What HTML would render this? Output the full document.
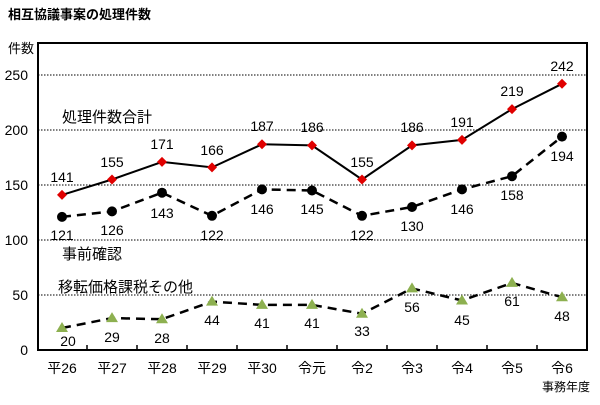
<!DOCTYPE html>
<html><head><meta charset="utf-8"><style>
body{margin:0;background:#fff}
text{font-family:"Liberation Sans","Noto Sans CJK JP",sans-serif;fill:#000}
</style></head><body>
<svg width="600" height="400" viewBox="0 0 600 400" xmlns="http://www.w3.org/2000/svg">
<text x="8" y="19" font-size="13" font-weight="bold">相互協議事案の処理件数</text>
<text x="8" y="53" font-size="13">件数</text>
<g stroke="#000" stroke-width="1" stroke-dasharray="1.5,1.5">
<line x1="38" y1="75" x2="587" y2="75"/><line x1="38" y1="130" x2="587" y2="130"/>
<line x1="38" y1="185" x2="587" y2="185"/><line x1="38" y1="240" x2="587" y2="240"/>
<line x1="38" y1="295" x2="587" y2="295"/>
</g>
<rect x="38" y="43" width="549" height="307" fill="none" stroke="#000" stroke-width="2"/>
<g font-size="14" text-anchor="end">
<text x="28" y="80">250</text><text x="28" y="135">200</text><text x="28" y="190">150</text>
<text x="28" y="245">100</text><text x="28" y="300">50</text><text x="28" y="355">0</text>
</g>
<g stroke="#000" stroke-width="1.5">
<line x1="87" y1="350" x2="87" y2="345"/><line x1="137" y1="350" x2="137" y2="345"/><line x1="187" y1="350" x2="187" y2="345"/><line x1="237" y1="350" x2="237" y2="345"/><line x1="287" y1="350" x2="287" y2="345"/><line x1="337" y1="350" x2="337" y2="345"/><line x1="387" y1="350" x2="387" y2="345"/><line x1="437" y1="350" x2="437" y2="345"/><line x1="487" y1="350" x2="487" y2="345"/><line x1="537" y1="350" x2="537" y2="345"/>
</g>
<g font-size="14" text-anchor="middle">
<text x="62" y="373">平26</text><text x="112" y="373">平27</text><text x="162" y="373">平28</text><text x="212" y="373">平29</text><text x="262" y="373">平30</text><text x="312" y="373">令元</text><text x="362" y="373">令2</text><text x="412" y="373">令3</text><text x="462" y="373">令4</text><text x="512" y="373">令5</text><text x="562" y="373">令6</text>
</g>
<text x="590" y="391" font-size="12" text-anchor="end">事務年度</text>
<g font-size="15"><text x="62" y="122">処理件数合計</text><text x="62" y="259">事前確認</text><text x="58" y="292">移転価格課税その他</text></g>
<polyline fill="none" stroke="#000" stroke-width="2" points="62,194.9 112,179.5 162,161.9 212,167.4 262,144.3 312,145.4 362,179.5 412,145.4 462,139.9 512,109.1 562,83.8"/>
<g fill="#e00000">
<path d="M62,189.9l5,5l-5,5l-5,-5z"/><path d="M112,174.5l5,5l-5,5l-5,-5z"/><path d="M162,156.9l5,5l-5,5l-5,-5z"/><path d="M212,162.4l5,5l-5,5l-5,-5z"/><path d="M262,139.3l5,5l-5,5l-5,-5z"/><path d="M312,140.4l5,5l-5,5l-5,-5z"/><path d="M362,174.5l5,5l-5,5l-5,-5z"/><path d="M412,140.4l5,5l-5,5l-5,-5z"/><path d="M462,134.9l5,5l-5,5l-5,-5z"/><path d="M512,104.1l5,5l-5,5l-5,-5z"/><path d="M562,78.8l5,5l-5,5l-5,-5z"/>
</g>
<g font-size="14" text-anchor="middle">
<text x="62" y="182">141</text><text x="112" y="167">155</text><text x="162" y="149">171</text><text x="212" y="155">166</text><text x="262" y="131">187</text><text x="312" y="132">186</text><text x="362" y="167">155</text><text x="412" y="132">186</text><text x="462" y="127">191</text><text x="512" y="96">219</text><text x="562" y="71">242</text>
</g>
<polyline fill="none" stroke="#000" stroke-width="2.5" stroke-dasharray="9,6" points="62,216.9 112,211.4 162,192.7 212,215.8 262,189.4 312,190.5 362,215.8 412,207 462,189.4 512,176.2 562,136.6"/>
<g fill="#000">
<circle cx="62" cy="216.9" r="5"/><circle cx="112" cy="211.4" r="5"/><circle cx="162" cy="192.7" r="5"/><circle cx="212" cy="215.8" r="5"/><circle cx="262" cy="189.4" r="5"/><circle cx="312" cy="190.5" r="5"/><circle cx="362" cy="215.8" r="5"/><circle cx="412" cy="207" r="5"/><circle cx="462" cy="189.4" r="5"/><circle cx="512" cy="176.2" r="5"/><circle cx="562" cy="136.6" r="5"/>
</g>
<g font-size="14" text-anchor="middle">
<text x="62" y="240">121</text><text x="112" y="235">126</text><text x="162" y="218">143</text><text x="212" y="240">122</text><text x="262" y="214">146</text><text x="312" y="214">145</text><text x="362" y="240">122</text><text x="412" y="231">130</text><text x="462" y="214">146</text><text x="512" y="200">158</text><text x="562" y="161">194</text>
</g>
<polyline fill="none" stroke="#000" stroke-width="2.5" stroke-dasharray="9,6" points="62,328 112,318.1 162,319.2 212,301.6 262,304.9 312,304.9 362,313.7 412,288.4 462,300.5 512,282.9 562,297.2"/>
<g fill="#8db050">
<path d="M62,322l6,10h-12z"/><path d="M112,312.1l6,10h-12z"/><path d="M162,313.2l6,10h-12z"/><path d="M212,295.6l6,10h-12z"/><path d="M262,298.9l6,10h-12z"/><path d="M312,298.9l6,10h-12z"/><path d="M362,307.7l6,10h-12z"/><path d="M412,282.4l6,10h-12z"/><path d="M462,294.5l6,10h-12z"/><path d="M512,276.9l6,10h-12z"/><path d="M562,291.2l6,10h-12z"/>
</g>
<g font-size="14" text-anchor="middle">
<text x="68" y="346">20</text><text x="112" y="342">29</text><text x="162" y="343">28</text><text x="212" y="325">44</text><text x="262" y="328">41</text><text x="312" y="328">41</text><text x="362" y="336">33</text><text x="412" y="312">56</text><text x="462" y="325">45</text><text x="512" y="306">61</text><text x="562" y="321">48</text>
</g>
</svg>
</body></html>
